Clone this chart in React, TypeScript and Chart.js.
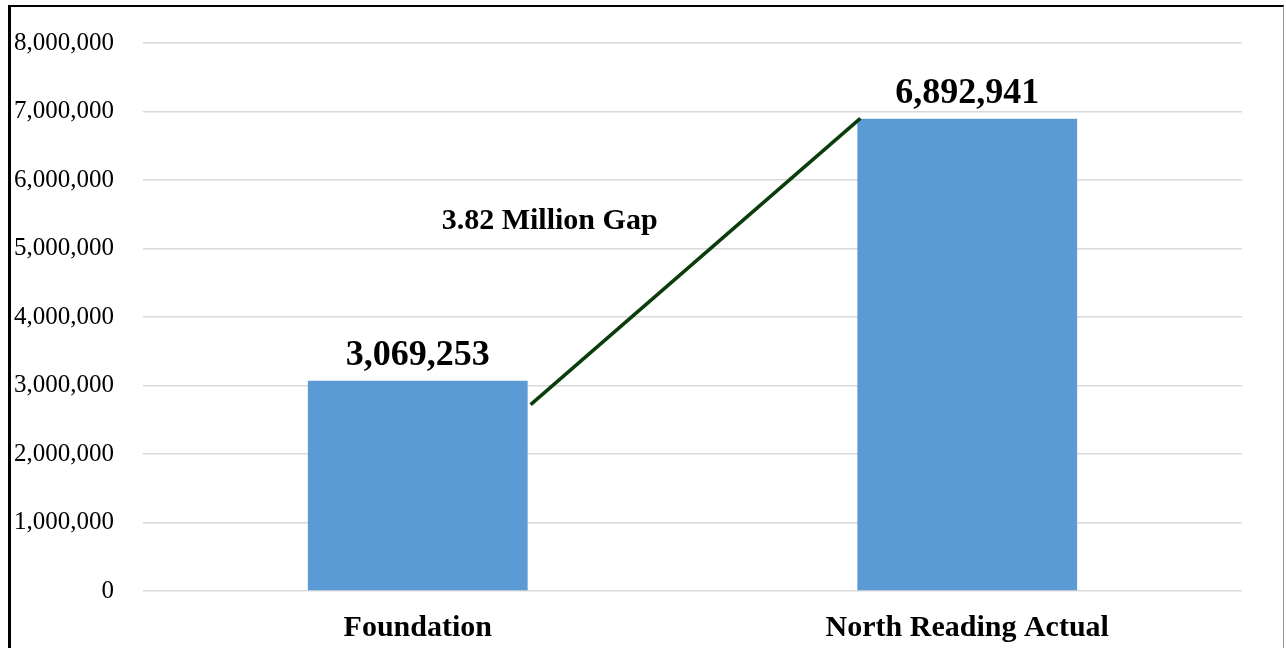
import React, { useEffect, useRef } from "react";
import { Chart, registerables } from "chart.js";

Chart.register(...registerables);

const categories = ["Foundation", "North Reading Actual"];
const values = [3069253, 6892941];
const gapLineValues = [2720000, 6900000];
const gapLabel = "3.82 Million Gap";
const gapLabelValue = 5400000;
const yTicksMax = 8000000;
const yStep = 1000000;

const FONT = "'Liberation Serif', 'Times New Roman', serif";

const overlayPlugin = {
  id: "overlay",
  afterDatasetsDraw(chart: any) {
    const ctx = chart.ctx;
    const meta = chart.getDatasetMeta(0);
    const y = chart.scales.y;
    const x = chart.scales.x;
    ctx.save();
    // value labels
    ctx.font = `bold 36px ${FONT}`;
    ctx.fillStyle = "#000";
    ctx.textAlign = "center";
    ctx.textBaseline = "alphabetic";
    meta.data.forEach((bar: any, i: number) => {
      ctx.fillText(values[i].toLocaleString("en-US"), bar.x, bar.y - 16);
    });
    // gap line
    const b0 = meta.data[0];
    const b1 = meta.data[1];
    const x0 = b0.x + b0.width / 2 + 3;
    const x1 = b1.x - b1.width / 2 + 3;
    ctx.strokeStyle = "#0b3d0b";
    ctx.lineWidth = 3.5;
    ctx.beginPath();
    ctx.moveTo(x0, y.getPixelForValue(gapLineValues[0]));
    ctx.lineTo(x1, y.getPixelForValue(gapLineValues[1]));
    ctx.stroke();
    // gap label
    const c0 = x.getPixelForValue(0);
    const c1 = x.getPixelForValue(1);
    ctx.font = `bold 30px ${FONT}`;
    ctx.textBaseline = "middle";
    ctx.fillText(gapLabel, c0 + 0.24 * (c1 - c0), y.getPixelForValue(gapLabelValue));
    ctx.restore();
  },
};

export default function App() {
  const ref = useRef<HTMLCanvasElement>(null);
  useEffect(() => {
    if (!ref.current) return;
    const chart = new Chart(ref.current, {
      type: "bar",
      data: {
        labels: categories,
        datasets: [
          {
            data: values,
            backgroundColor: "#5b9bd5",
            borderWidth: 0,
            categoryPercentage: 1,
            barPercentage: 0.4,
          },
        ],
      },
      options: {
        animation: false,
        responsive: false,
        maintainAspectRatio: false,
        layout: { padding: { left: 0, right: 41, top: 0, bottom: 0 } },
        plugins: { legend: { display: false }, tooltip: { enabled: false } },
        scales: {
          x: {
            grid: { display: false },
            border: { display: false },
            ticks: {
              color: "#000",
              font: { family: FONT, size: 30, weight: "bold" },
              padding: 11,
            },
            afterFit: (scale: any) => {
              scale.height = 57;
            },
          },
          y: {
            min: 0,
            max: yTicksMax,
            grid: { color: "#d9d9d9", lineWidth: 1.5, drawTicks: false },
            border: { display: false },
            ticks: {
              stepSize: yStep,
              color: "#000",
              padding: 29,
              font: { family: FONT, size: 25 },
              callback: (v: any) => Number(v).toLocaleString("en-US"),
            },
            afterFit: (scale: any) => {
              scale.width = 132;
              scale.paddingTop = 36;
              scale.paddingBottom = 20;
            },
          },
        },
      },
      plugins: [overlayPlugin],
    });
    return () => chart.destroy();
  }, []);
  return (
    <div style={{ position: "absolute", left: 0, top: 0, width: 1286, height: 648, overflow: "hidden", background: "#fff" }}>
      <div
        style={{
          position: "absolute",
          left: 8,
          top: 5,
          width: 1272,
          height: 700,
          borderLeft: "3px solid #000",
          borderTop: "2px solid #000",
          borderRight: "1px solid #999",
        }}
      >
        <canvas ref={ref} width={1272} height={641} style={{ display: "block" }} />
      </div>
    </div>
  );
}
